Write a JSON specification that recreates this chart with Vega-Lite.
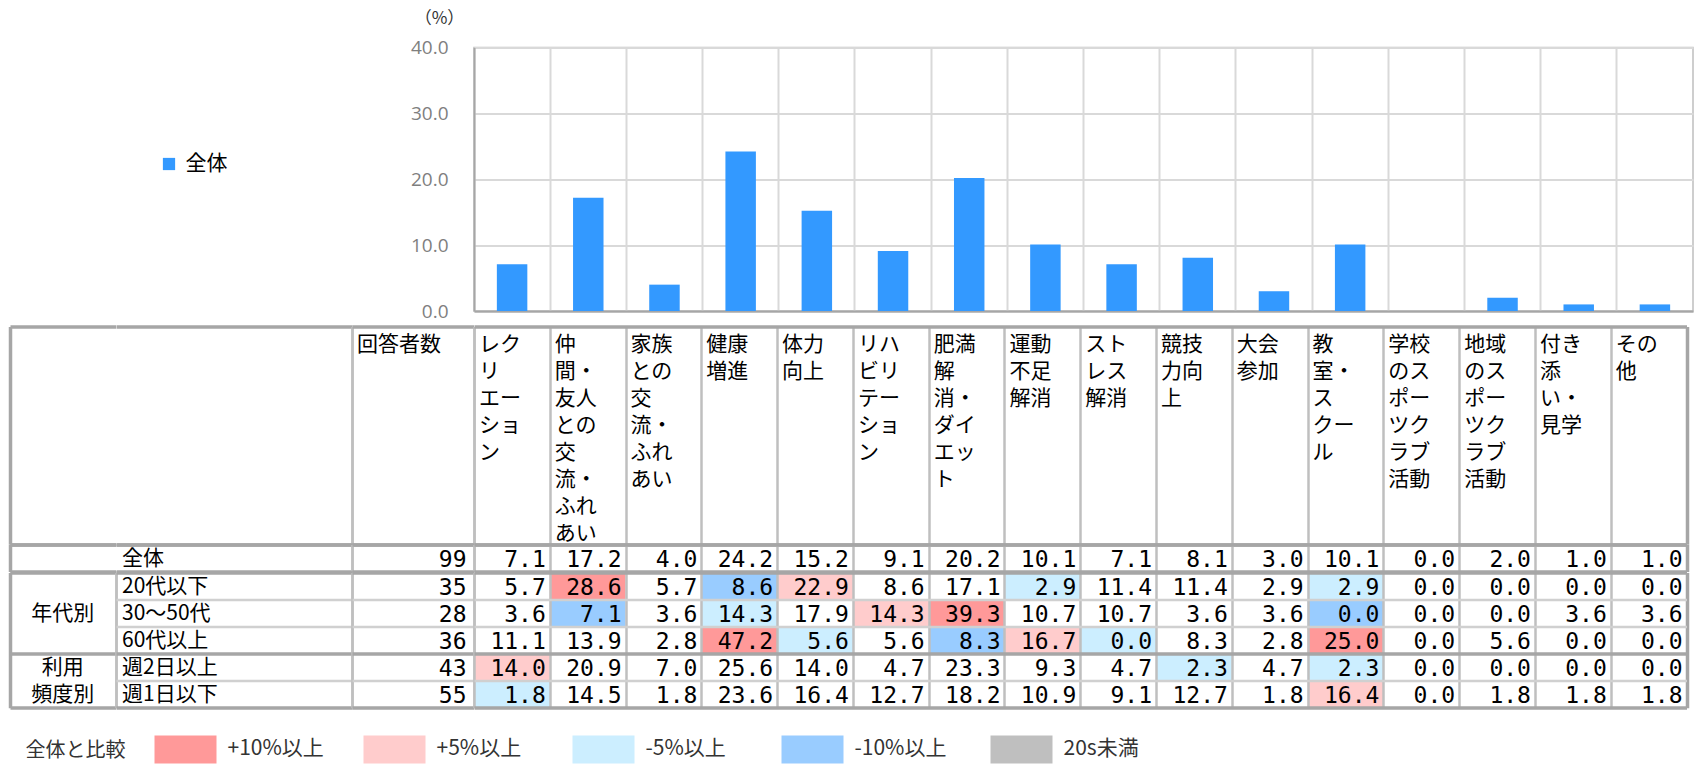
{
"$schema":"https://vega.github.io/schema/vega-lite/v6.json",
"background":"white",
"padding":{"left":10,"top":7.5,"right":0,"bottom":0},
"config":{"view":{"stroke":null},"font":"Noto Sans CJK JP","axis":{"title":null,"labels":false,"ticks":false,"domain":false}},
"datasets":{
"cats":[
{"cat":"レクリエーション","head":"レク\nリ\nエー\nショ\nン","value":7.1},
{"cat":"仲間・友人との交流・ふれあい","head":"仲\n間・\n友人\nとの\n交\n流・\nふれ\nあい","value":17.2},
{"cat":"家族との交流・ふれあい","head":"家族\nとの\n交\n流・\nふれ\nあい","value":4.0},
{"cat":"健康増進","head":"健康\n増進","value":24.2},
{"cat":"体力向上","head":"体力\n向上","value":15.2},
{"cat":"リハビリテーション","head":"リハ\nビリ\nテー\nショ\nン","value":9.1},
{"cat":"肥満解消・ダイエット","head":"肥満\n解\n消・\nダイ\nエッ\nト","value":20.2},
{"cat":"運動不足解消","head":"運動\n不足\n解消","value":10.1},
{"cat":"ストレス解消","head":"スト\nレス\n解消","value":7.1},
{"cat":"競技力向上","head":"競技\n力向\n上","value":8.1},
{"cat":"大会参加","head":"大会\n参加","value":3.0},
{"cat":"教室・スクール","head":"教\n室・\nス\nクー\nル","value":10.1},
{"cat":"学校のスポーツクラブ活動","head":"学校\nのス\nポー\nツク\nラブ\n活動","value":0.0},
{"cat":"地域のスポーツクラブ活動","head":"地域\nのス\nポー\nツク\nラブ\n活動","value":2.0},
{"cat":"付き添い・見学","head":"付き\n添\nい・\n見学","value":1.0},
{"cat":"その他","head":"その\n他","value":1.0}
],
"rows":[
{"row":"全体","n":99},{"row":"20代以下","n":35},{"row":"30～50代","n":28},{"row":"60代以上","n":36},{"row":"週2日以上","n":43},{"row":"週1日以下","n":55}
],
"cells":[
{"row":"全体","cat":"レクリエーション","value":7.1},
{"row":"全体","cat":"仲間・友人との交流・ふれあい","value":17.2},
{"row":"全体","cat":"家族との交流・ふれあい","value":4.0},
{"row":"全体","cat":"健康増進","value":24.2},
{"row":"全体","cat":"体力向上","value":15.2},
{"row":"全体","cat":"リハビリテーション","value":9.1},
{"row":"全体","cat":"肥満解消・ダイエット","value":20.2},
{"row":"全体","cat":"運動不足解消","value":10.1},
{"row":"全体","cat":"ストレス解消","value":7.1},
{"row":"全体","cat":"競技力向上","value":8.1},
{"row":"全体","cat":"大会参加","value":3.0},
{"row":"全体","cat":"教室・スクール","value":10.1},
{"row":"全体","cat":"学校のスポーツクラブ活動","value":0.0},
{"row":"全体","cat":"地域のスポーツクラブ活動","value":2.0},
{"row":"全体","cat":"付き添い・見学","value":1.0},
{"row":"全体","cat":"その他","value":1.0},
{"row":"20代以下","cat":"レクリエーション","value":5.7},
{"row":"20代以下","cat":"仲間・友人との交流・ふれあい","value":28.6,"diff":"+10%以上"},
{"row":"20代以下","cat":"家族との交流・ふれあい","value":5.7},
{"row":"20代以下","cat":"健康増進","value":8.6,"diff":"-10%以上"},
{"row":"20代以下","cat":"体力向上","value":22.9,"diff":"+5%以上"},
{"row":"20代以下","cat":"リハビリテーション","value":8.6},
{"row":"20代以下","cat":"肥満解消・ダイエット","value":17.1},
{"row":"20代以下","cat":"運動不足解消","value":2.9,"diff":"-5%以上"},
{"row":"20代以下","cat":"ストレス解消","value":11.4},
{"row":"20代以下","cat":"競技力向上","value":11.4},
{"row":"20代以下","cat":"大会参加","value":2.9},
{"row":"20代以下","cat":"教室・スクール","value":2.9,"diff":"-5%以上"},
{"row":"20代以下","cat":"学校のスポーツクラブ活動","value":0.0},
{"row":"20代以下","cat":"地域のスポーツクラブ活動","value":0.0},
{"row":"20代以下","cat":"付き添い・見学","value":0.0},
{"row":"20代以下","cat":"その他","value":0.0},
{"row":"30～50代","cat":"レクリエーション","value":3.6},
{"row":"30～50代","cat":"仲間・友人との交流・ふれあい","value":7.1,"diff":"-10%以上"},
{"row":"30～50代","cat":"家族との交流・ふれあい","value":3.6},
{"row":"30～50代","cat":"健康増進","value":14.3,"diff":"-5%以上"},
{"row":"30～50代","cat":"体力向上","value":17.9},
{"row":"30～50代","cat":"リハビリテーション","value":14.3,"diff":"+5%以上"},
{"row":"30～50代","cat":"肥満解消・ダイエット","value":39.3,"diff":"+10%以上"},
{"row":"30～50代","cat":"運動不足解消","value":10.7},
{"row":"30～50代","cat":"ストレス解消","value":10.7},
{"row":"30～50代","cat":"競技力向上","value":3.6},
{"row":"30～50代","cat":"大会参加","value":3.6},
{"row":"30～50代","cat":"教室・スクール","value":0.0,"diff":"-10%以上"},
{"row":"30～50代","cat":"学校のスポーツクラブ活動","value":0.0},
{"row":"30～50代","cat":"地域のスポーツクラブ活動","value":0.0},
{"row":"30～50代","cat":"付き添い・見学","value":3.6},
{"row":"30～50代","cat":"その他","value":3.6},
{"row":"60代以上","cat":"レクリエーション","value":11.1},
{"row":"60代以上","cat":"仲間・友人との交流・ふれあい","value":13.9},
{"row":"60代以上","cat":"家族との交流・ふれあい","value":2.8},
{"row":"60代以上","cat":"健康増進","value":47.2,"diff":"+10%以上"},
{"row":"60代以上","cat":"体力向上","value":5.6,"diff":"-5%以上"},
{"row":"60代以上","cat":"リハビリテーション","value":5.6},
{"row":"60代以上","cat":"肥満解消・ダイエット","value":8.3,"diff":"-10%以上"},
{"row":"60代以上","cat":"運動不足解消","value":16.7,"diff":"+5%以上"},
{"row":"60代以上","cat":"ストレス解消","value":0.0,"diff":"-5%以上"},
{"row":"60代以上","cat":"競技力向上","value":8.3},
{"row":"60代以上","cat":"大会参加","value":2.8},
{"row":"60代以上","cat":"教室・スクール","value":25.0,"diff":"+10%以上"},
{"row":"60代以上","cat":"学校のスポーツクラブ活動","value":0.0},
{"row":"60代以上","cat":"地域のスポーツクラブ活動","value":5.6},
{"row":"60代以上","cat":"付き添い・見学","value":0.0},
{"row":"60代以上","cat":"その他","value":0.0},
{"row":"週2日以上","cat":"レクリエーション","value":14.0,"diff":"+5%以上"},
{"row":"週2日以上","cat":"仲間・友人との交流・ふれあい","value":20.9},
{"row":"週2日以上","cat":"家族との交流・ふれあい","value":7.0},
{"row":"週2日以上","cat":"健康増進","value":25.6},
{"row":"週2日以上","cat":"体力向上","value":14.0},
{"row":"週2日以上","cat":"リハビリテーション","value":4.7},
{"row":"週2日以上","cat":"肥満解消・ダイエット","value":23.3},
{"row":"週2日以上","cat":"運動不足解消","value":9.3},
{"row":"週2日以上","cat":"ストレス解消","value":4.7},
{"row":"週2日以上","cat":"競技力向上","value":2.3,"diff":"-5%以上"},
{"row":"週2日以上","cat":"大会参加","value":4.7},
{"row":"週2日以上","cat":"教室・スクール","value":2.3,"diff":"-5%以上"},
{"row":"週2日以上","cat":"学校のスポーツクラブ活動","value":0.0},
{"row":"週2日以上","cat":"地域のスポーツクラブ活動","value":0.0},
{"row":"週2日以上","cat":"付き添い・見学","value":0.0},
{"row":"週2日以上","cat":"その他","value":0.0},
{"row":"週1日以下","cat":"レクリエーション","value":1.8,"diff":"-5%以上"},
{"row":"週1日以下","cat":"仲間・友人との交流・ふれあい","value":14.5},
{"row":"週1日以下","cat":"家族との交流・ふれあい","value":1.8},
{"row":"週1日以下","cat":"健康増進","value":23.6},
{"row":"週1日以下","cat":"体力向上","value":16.4},
{"row":"週1日以下","cat":"リハビリテーション","value":12.7},
{"row":"週1日以下","cat":"肥満解消・ダイエット","value":18.2},
{"row":"週1日以下","cat":"運動不足解消","value":10.9},
{"row":"週1日以下","cat":"ストレス解消","value":9.1},
{"row":"週1日以下","cat":"競技力向上","value":12.7},
{"row":"週1日以下","cat":"大会参加","value":1.8},
{"row":"週1日以下","cat":"教室・スクール","value":16.4,"diff":"+5%以上"},
{"row":"週1日以下","cat":"学校のスポーツクラブ活動","value":0.0},
{"row":"週1日以下","cat":"地域のスポーツクラブ活動","value":1.8},
{"row":"週1日以下","cat":"付き添い・見学","value":1.8},
{"row":"週1日以下","cat":"その他","value":1.8}
]
},
"bounds":"flush",
"spacing":0,
"columns":4,
"concat":[
 {"width":105.5,"height":278.5,"data":{"values":[{"k":1}]},"mark":{"type":"point","opacity":0},"encoding":{}},
 {"width":236,"height":278.5,"data":{"values":[{"k":1}]},"mark":{"type":"point","opacity":0},"encoding":{}},
 {"width":121.5,"height":278.5,"data":{"values":[{"k":1}]},"mark":{"type":"point","opacity":0},"encoding":{}},
 {"width":1219,"height":263.5,"view":{"stroke":"#bfbfbf","strokeWidth":1.5},
  "data":{"name":"cats"},
  "mark":{"type":"bar","width":{"band":0.4}},
  "encoding":{
   "x":{"field":"cat","type":"nominal","sort":null,"scale":{"paddingInner":0,"paddingOuter":0},
        "axis":{"title":null,"labels":false,"ticks":false,"domain":true,"domainColor":"#a6a6a6","domainWidth":2,"grid":true,"gridColor":"#d9d9d9","gridWidth":2,"bandPosition":0}},
   "y":{"field":"value","type":"quantitative","scale":{"domain":[0,40],"nice":false},
        "axis":{"values":[0,10,20,30,40],"format":".1f","labels":true,"title":"（%）","titleAngle":0,"titleX":-35,"titleY":-29.5,"titleAlign":"center","titleBaseline":"middle","titleFontSize":17,"titleFontWeight":"normal","titleColor":"#333333","labelFont":"Open Sans","labelFontSize":19,"labelColor":"#7f7f7f","labelPadding":26,"ticks":false,"domain":true,"domainColor":"#a6a6a6","domainWidth":2,"grid":true,"gridColor":"#d9d9d9","gridWidth":2}},
   "color":{"datum":"全体","type":"nominal","scale":{"range":["#3399ff"]},
        "legend":{"title":null,"orient":"none","legendX":148.5,"legendY":106,"symbolType":"square","symbolSize":150,"symbolStrokeWidth":0,"symbolOpacity":1,"labelFontSize":21,"labelColor":"#000000","labelOffset":6}}
  }},

 {"width":105.5,"height":217.7,"data":{"values":[{"k":"h"}]},"mark":{"type":"rect","opacity":0},
  "encoding":{
   "x":{"field":"k","type":"nominal","scale":{"paddingInner":0,"paddingOuter":0},"axis":{"orient":"top","grid":true,"tickBand":"extent","gridColor":"#a6a6a6","gridWidth":3.5,"gridOpacity":{"condition":{"test":"datum.value == null","value":1},"value":0}}},
   "y":{"field":"k","type":"nominal","scale":{"paddingInner":0,"paddingOuter":0},"axis":{"orient":"left","grid":true,"tickBand":"extent","gridColor":"#a6a6a6","gridWidth":3.5}}
  }},
 {"width":236,"height":217.7,"data":{"values":[{"k":"h"}]},"mark":{"type":"rect","opacity":0},
  "encoding":{
   "x":{"field":"k","type":"nominal","scale":{"paddingInner":0,"paddingOuter":0},"axis":{"orient":"top","grid":true,"tickBand":"extent","gridColor":"#bfbfbf","gridWidth":2.5,"gridOpacity":{"condition":{"test":"datum.value == null","value":0},"value":1}}},
   "y":{"field":"k","type":"nominal","scale":{"paddingInner":0,"paddingOuter":0},"axis":{"orient":"left","grid":true,"tickBand":"extent","gridColor":"#a6a6a6","gridWidth":3.5}}
  }},
 {"width":121.5,"height":217.7,"data":{"values":[{"t":"回答者数"}]},
  "mark":{"type":"text","align":"left","baseline":"top","dx":-55.75,"dy":-101.85,"fontSize":21,"color":"#000000"},
  "encoding":{
   "text":{"field":"t"},
   "x":{"field":"t","type":"nominal","scale":{"paddingInner":0,"paddingOuter":0},"axis":{"orient":"top","grid":true,"tickBand":"extent","gridColor":"#bfbfbf","gridWidth":2.5}},
   "y":{"field":"t","type":"nominal","scale":{"paddingInner":0,"paddingOuter":0},"axis":{"orient":"left","grid":true,"tickBand":"extent","gridColor":"#a6a6a6","gridWidth":3.5}}
  }},
 {"width":1212.5,"height":217.7,"data":{"name":"cats"},
  "mark":{"type":"text","align":"left","baseline":"top","dx":-32.9,"dy":-101.85,"fontSize":21,"lineBreak":"\n","lineHeight":27,"color":"#000000"},
  "encoding":{
   "text":{"field":"head"},
   "x":{"field":"cat","type":"nominal","sort":null,"scale":{"paddingInner":0,"paddingOuter":0},"axis":{"orient":"top","grid":true,"tickBand":"extent",
        "gridColor":{"condition":{"test":"datum.value === 'その他'","value":"#a6a6a6"},"value":"#bfbfbf"},
        "gridWidth":{"condition":{"test":"datum.value === 'その他'","value":3.5},"value":2.5}}},
   "y":{"datum":"h","type":"nominal","scale":{"paddingInner":0,"paddingOuter":0},"axis":{"orient":"left","grid":true,"tickBand":"extent","gridColor":"#a6a6a6","gridWidth":3.5}}
  }},

 {"width":105.5,"height":27.05,"data":{"values":[{"k":"z"}]},"mark":{"type":"rect","opacity":0},
  "encoding":{
   "x":{"field":"k","type":"nominal","scale":{"paddingInner":0,"paddingOuter":0},"axis":{"orient":"top","grid":true,"tickBand":"extent","gridColor":"#a6a6a6","gridWidth":3.5,"gridOpacity":{"condition":{"test":"datum.value == null","value":1},"value":0}}},
   "y":{"field":"k","type":"nominal","scale":{"paddingInner":0,"paddingOuter":0},"axis":{"orient":"left","grid":true,"tickBand":"extent","gridColor":"#a6a6a6","gridWidth":3.5}}
  }},
 {"width":236,"height":27.05,"data":{"name":"rows"},"transform":[{"filter":"datum.row === '全体'"}],
  "mark":{"type":"text","align":"left","baseline":"middle","dx":-112,"dy":1,"fontSize":21,"color":"#000000"},
  "encoding":{
   "text":{"field":"row"},
   "x":{"datum":"c","type":"nominal","scale":{"paddingInner":0,"paddingOuter":0},"axis":{"orient":"top","grid":true,"tickBand":"extent","gridColor":"#bfbfbf","gridWidth":2.5,"gridOpacity":{"condition":{"test":"datum.value == null","value":0},"value":1}}},
   "y":{"field":"row","type":"nominal","scale":{"paddingInner":0,"paddingOuter":0},"axis":{"orient":"left","grid":true,"tickBand":"extent","gridColor":"#a6a6a6","gridWidth":3.5}}
  }},
 {"width":121.5,"height":27.05,"data":{"name":"rows"},"transform":[{"filter":"datum.row === '全体'"}],
  "mark":{"type":"text","align":"right","baseline":"middle","dx":53.75,"dy":1.5,"fontSize":23,"font":"DejaVu Sans Mono","color":"#000000"},
  "encoding":{
   "text":{"field":"n","type":"quantitative"},
   "x":{"datum":"n","type":"nominal","scale":{"paddingInner":0,"paddingOuter":0},"axis":{"orient":"top","grid":true,"tickBand":"extent","gridColor":"#bfbfbf","gridWidth":2.5}},
   "y":{"field":"row","type":"nominal","scale":{"paddingInner":0,"paddingOuter":0},"axis":{"orient":"left","grid":true,"tickBand":"extent","gridColor":"#a6a6a6","gridWidth":3.5}}
  }},
 {"width":1212.5,"height":27.05,"data":{"name":"cells"},"transform":[{"filter":"datum.row === '全体'"}],
  "mark":{"type":"text","align":"right","baseline":"middle","dx":33.9,"dy":1.5,"fontSize":23,"font":"DejaVu Sans Mono","color":"#000000"},
  "encoding":{
   "text":{"field":"value","type":"quantitative","format":".1f"},
   "x":{"field":"cat","type":"nominal","scale":{"domain":["レクリエーション","仲間・友人との交流・ふれあい","家族との交流・ふれあい","健康増進","体力向上","リハビリテーション","肥満解消・ダイエット","運動不足解消","ストレス解消","競技力向上","大会参加","教室・スクール","学校のスポーツクラブ活動","地域のスポーツクラブ活動","付き添い・見学","その他"],"paddingInner":0,"paddingOuter":0},
        "axis":{"orient":"top","grid":true,"tickBand":"extent",
        "gridColor":{"condition":{"test":"datum.value === 'その他'","value":"#a6a6a6"},"value":"#bfbfbf"},
        "gridWidth":{"condition":{"test":"datum.value === 'その他'","value":3.5},"value":2.5}}},
   "y":{"field":"row","type":"nominal","scale":{"paddingInner":0,"paddingOuter":0},"axis":{"orient":"left","grid":true,"tickBand":"extent","gridColor":"#a6a6a6","gridWidth":3.5}}
  }},

 {"width":105.5,"height":135.25,
  "layer":[
   {"data":{"values":[{"group":"年代別","row":"30～50代"}]},
    "mark":{"type":"text","align":"center","baseline":"middle","dy":1,"fontSize":21,"color":"#000000"},
    "encoding":{
     "text":{"field":"group"},
     "x":{"datum":"g","type":"nominal","scale":{"paddingInner":0,"paddingOuter":0},"axis":{"orient":"top","grid":true,"tickBand":"extent",
          "gridColor":{"condition":{"test":"datum.value == null","value":"#a6a6a6"},"value":"#bfbfbf"},
          "gridWidth":{"condition":{"test":"datum.value == null","value":3.5},"value":2.5}}},
     "y":{"field":"row","type":"nominal","scale":{"domain":["20代以下","30～50代","60代以上","週2日以上","週1日以下"],"paddingInner":0,"paddingOuter":0},"axis":{"orient":"left","grid":true,"tickBand":"extent","gridColor":"#a6a6a6","gridWidth":3.5,
          "gridOpacity":{"condition":{"test":"datum.value == null || datum.value === '60代以上' || datum.value === '週1日以下'","value":1},"value":0}}}
    }},
   {"data":{"values":[{"group":"利用\n頻度別","row":"週2日以上"}]},
    "mark":{"type":"text","align":"center","baseline":"middle","lineBreak":"\n","lineHeight":27,"dy":1,"fontSize":21,"color":"#000000"},
    "encoding":{
     "text":{"field":"group"},
     "x":{"datum":"g","type":"nominal"},
     "y":{"field":"row","type":"nominal"}
    }}
  ]},
 {"width":236,"height":135.25,"data":{"name":"rows"},"transform":[{"filter":"datum.row !== '全体'"}],
  "mark":{"type":"text","align":"left","baseline":"middle","dx":-112,"dy":1,"fontSize":21,"color":"#000000"},
  "encoding":{
   "text":{"field":"row"},
   "x":{"datum":"c","type":"nominal","scale":{"paddingInner":0,"paddingOuter":0},"axis":{"orient":"top","grid":true,"tickBand":"extent","gridColor":"#bfbfbf","gridWidth":2.5}},
   "y":{"field":"row","type":"nominal","scale":{"domain":["20代以下","30～50代","60代以上","週2日以上","週1日以下"],"paddingInner":0,"paddingOuter":0},
        "axis":{"orient":"left","grid":true,"tickBand":"extent",
                "gridColor":{"condition":{"test":"datum.value == null || datum.value === '60代以上' || datum.value === '週1日以下'","value":"#a6a6a6"},"value":"#d0d0d0"},
                "gridWidth":{"condition":{"test":"datum.value == null || datum.value === '60代以上' || datum.value === '週1日以下'","value":3.5},"value":2.5}}}
  }},
 {"width":121.5,"height":135.25,"data":{"name":"rows"},"transform":[{"filter":"datum.row !== '全体'"}],
  "mark":{"type":"text","align":"right","baseline":"middle","dx":53.75,"dy":1.5,"fontSize":23,"font":"DejaVu Sans Mono","color":"#000000"},
  "encoding":{
   "text":{"field":"n","type":"quantitative"},
   "x":{"datum":"n","type":"nominal","scale":{"paddingInner":0,"paddingOuter":0},"axis":{"orient":"top","grid":true,"tickBand":"extent","gridColor":"#bfbfbf","gridWidth":2.5}},
   "y":{"field":"row","type":"nominal","scale":{"domain":["20代以下","30～50代","60代以上","週2日以上","週1日以下"],"paddingInner":0,"paddingOuter":0},
        "axis":{"orient":"left","grid":true,"tickBand":"extent",
                "gridColor":{"condition":{"test":"datum.value == null || datum.value === '60代以上' || datum.value === '週1日以下'","value":"#a6a6a6"},"value":"#d0d0d0"},
                "gridWidth":{"condition":{"test":"datum.value == null || datum.value === '60代以上' || datum.value === '週1日以下'","value":3.5},"value":2.5}}}
  }},
 {"width":1212.5,"height":135.25,"data":{"name":"cells"},"transform":[{"filter":"datum.row !== '全体'"}],
  "encoding":{
   "x":{"field":"cat","type":"nominal","scale":{"domain":["レクリエーション","仲間・友人との交流・ふれあい","家族との交流・ふれあい","健康増進","体力向上","リハビリテーション","肥満解消・ダイエット","運動不足解消","ストレス解消","競技力向上","大会参加","教室・スクール","学校のスポーツクラブ活動","地域のスポーツクラブ活動","付き添い・見学","その他"],"paddingInner":0,"paddingOuter":0},
        "axis":{"orient":"top","grid":true,"tickBand":"extent","zindex":1,
        "gridColor":{"condition":{"test":"datum.value === 'その他'","value":"#a6a6a6"},"value":"#bfbfbf"},
        "gridWidth":{"condition":{"test":"datum.value === 'その他'","value":3.5},"value":2.5}}},
   "y":{"field":"row","type":"nominal","scale":{"domain":["20代以下","30～50代","60代以上","週2日以上","週1日以下"],"paddingInner":0,"paddingOuter":0},
        "axis":{"orient":"left","grid":true,"tickBand":"extent","zindex":1,
                "gridColor":{"condition":{"test":"datum.value == null || datum.value === '60代以上' || datum.value === '週1日以下'","value":"#a6a6a6"},"value":"#d0d0d0"},
                "gridWidth":{"condition":{"test":"datum.value == null || datum.value === '60代以上' || datum.value === '週1日以下'","value":3.5},"value":2.5}}}
  },
  "layer":[
   {"transform":[{"filter":"datum.diff != null"}],"mark":{"type":"rect"},
    "encoding":{"fill":{"field":"diff","type":"nominal",
      "scale":{"domain":["+10%以上","+5%以上","-5%以上","-10%以上","20s未満"],"range":["#ff9999","#ffcccc","#cceeff","#99ccff","#bfbfbf"]},
      "legend":{"title":"全体と比較","orient":"none","direction":"horizontal","legendX":15.5,"legendY":670.5,
                "titleOrient":"left","titleAnchor":"middle","titleBaseline":"middle","titleFontSize":20,"titleFontWeight":"normal","titleColor":"#333333","titlePadding":29,
                "symbolType":"M-1,-0.45H1V0.45H-1ZM0,1.1L0,1.1Z","symbolSize":3844,"symbolStrokeWidth":0,"symbolOpacity":1,
                "labelFontSize":21,"labelColor":"#333333","labelOffset":11,"labelLimit":300,"columnPadding":39,"gridAlign":"all"}}}},
   {"mark":{"type":"text","align":"right","baseline":"middle","dx":33.9,"dy":1.5,"fontSize":23,"font":"DejaVu Sans Mono","color":"#000000"},
    "encoding":{"text":{"field":"value","type":"quantitative","format":".1f"}}}
  ]}
]
}
